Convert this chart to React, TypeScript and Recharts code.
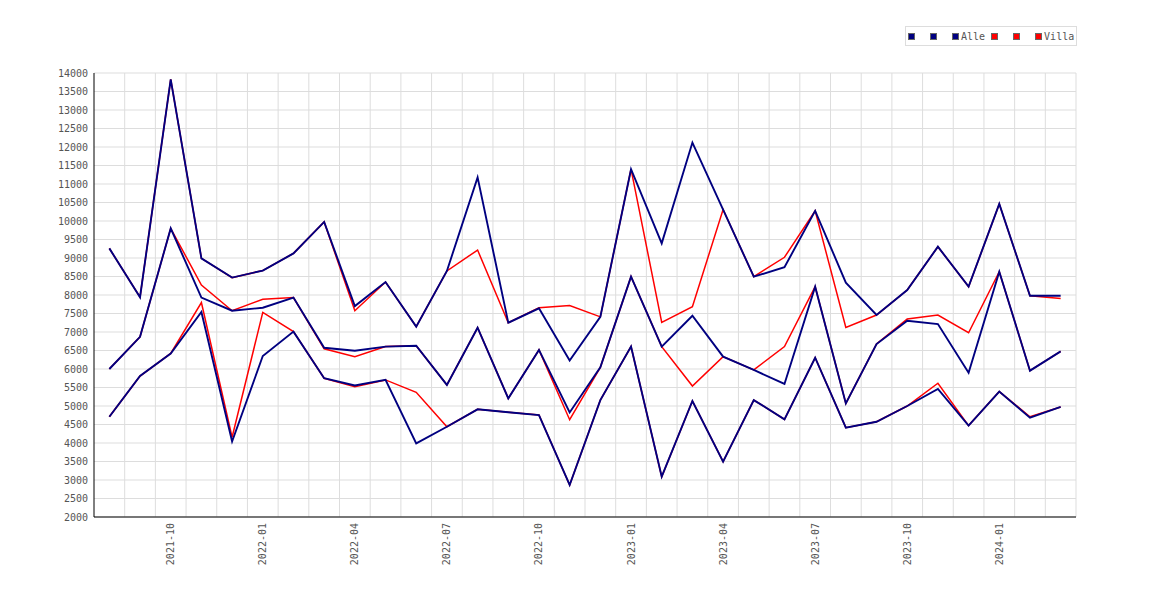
import React from 'react';
import { LineChart, Line, XAxis, YAxis, CartesianGrid } from 'recharts';

const months = [
  '2021-08', '2021-09', '2021-10', '2021-11', '2021-12', '2022-01', '2022-02', '2022-03',
  '2022-04', '2022-05', '2022-06', '2022-07', '2022-08', '2022-09', '2022-10', '2022-11',
  '2022-12', '2023-01', '2023-02', '2023-03', '2023-04', '2023-05', '2023-06', '2023-07',
  '2023-08', '2023-09', '2023-10', '2023-11', '2023-12', '2024-01', '2024-02', '2024-03',
];

const xTickLabels = [
  '2021-10', '2022-01', '2022-04', '2022-07', '2022-10',
  '2023-01', '2023-04', '2023-07', '2023-10', '2024-01',
];

const yTicks = [
  2000, 2500, 3000, 3500, 4000, 4500, 5000, 5500, 6000, 6500, 7000, 7500, 8000,
  8500, 9000, 9500, 10000, 10500, 11000, 11500, 12000, 12500, 13000, 13500, 14000,
];

// Alle (navy)
const alleMax = [
  9260, 7940, 13830, 8990, 8470, 8660, 9125, 9975, 7700, 8350, 7145, 8650, 11180, 7250, 7640, 6230,
  7410, 11400, 9395, 12120, 10310, 8495, 8750, 10275, 8335, 7460, 8135, 9305, 8225, 10460, 7980, 7980,
];
const alleAvg = [
  6000, 6870, 9800, 7930, 7575, 7655, 7930, 6575, 6495, 6605, 6630, 5570, 7115, 5205, 6515, 4825,
  6045, 8495, 6605, 7440, 6335, 5975, 5595, 8225, 5070, 6675, 7305, 7215, 5900, 8630, 5955, 6475,
];
const alleMin = [
  4710, 5810, 6420, 7540, 4040, 6350, 7010, 5750, 5555, 5705, 3990, 4440, 4910, 4830, 4755, 2865,
  5160, 6605, 3090, 5135, 3495, 5160, 4640, 6305, 4415, 4575, 5000, 5460, 4470, 5390, 4685, 4975,
];

// Villa (red)
const villaMax = [
  9260, 7940, 13830, 8990, 8470, 8660, 9125, 9975, 7575, 8350, 7145, 8650, 9215, 7250, 7655, 7715,
  7410, 11400, 7260, 7685, 10310, 8495, 9020, 10275, 7125, 7460, 8135, 9305, 8225, 10460, 7980, 7905,
];
const villaAvg = [
  6000, 6870, 9800, 8270, 7575, 7885, 7930, 6545, 6335, 6605, 6630, 5570, 7115, 5205, 6515, 4630,
  6045, 8495, 6605, 5540, 6335, 5975, 6605, 8225, 5070, 6675, 7350, 7460, 6980, 8630, 5955, 6475,
];
const villaMin = [
  4710, 5810, 6420, 7795, 4155, 7530, 7010, 5750, 5520, 5705, 5370, 4440, 4910, 4830, 4755, 2865,
  5160, 6605, 3090, 5135, 3495, 5160, 4640, 6305, 4415, 4575, 5000, 5615, 4470, 5390, 4710, 4975,
];

const NAVY = '#000080';
const RED = '#ff0000';

const legendItems = [
  { label: '', color: NAVY },
  { label: '', color: NAVY },
  { label: 'Alle', color: NAVY },
  { label: '', color: RED },
  { label: '', color: RED },
  { label: 'Villa', color: RED },
];

const data = months.map((month, i) => ({
  month,
  alleMax: alleMax[i],
  alleAvg: alleAvg[i],
  alleMin: alleMin[i],
  villaMax: villaMax[i],
  villaAvg: villaAvg[i],
  villaMin: villaMin[i],
}));

const FONT = '"DejaVu Sans Mono", monospace';
const PLOT_W = 982;
const HALF_BAND = PLOT_W / months.length / 2;

const XTick = (props: any) => {
  const { x, y, payload } = props;
  return (
    <text
      x={x}
      y={y}
      dy="0.35em"
      transform={`rotate(-90, ${x}, ${y})`}
      textAnchor="end"
      fill="#555"
      fontSize={10}
      fontFamily={FONT}
    >
      {payload.value}
    </text>
  );
};

const Legend = () => (
  <div
    style={{
      position: 'absolute',
      left: 905,
      top: 26,
      width: 168,
      height: 18,
      border: '1px solid #dddddd',
      background: '#fff',
      display: 'flex',
      alignItems: 'center',
      paddingLeft: 2,
      boxSizing: 'content-box',
      fontFamily: FONT,
      fontSize: 10,
      color: '#555',
      whiteSpace: 'nowrap',
    }}
  >
    {legendItems.map((item, i) => (
      <div key={i} style={{ display: 'flex', alignItems: 'center', marginRight: item.label ? 6 : 15 }}>
        <span
          style={{
            display: 'inline-block',
            width: 5,
            height: 5,
            background: item.color,
            border: '1px solid #666',
          }}
        />
        {item.label && <span style={{ marginLeft: 2 }}>{item.label}</span>}
      </div>
    ))}
  </div>
);

export default function App() {
  return (
    <div style={{ position: 'absolute', left: 0, top: 0, width: 1170, height: 600, background: '#fff' }}>
      <LineChart
        width={1170}
        height={600}
        data={data}
        margin={{ top: 73, right: 94, bottom: 33, left: 34 }}
      >
        <CartesianGrid
          stroke="#dddddd"
          verticalCoordinatesGenerator={({ offset }: any) =>
            months.map((_, i) => offset.left + ((i + 1) * offset.width) / months.length)
          }
        />
        <XAxis
          dataKey="month"
          ticks={xTickLabels}
          interval={0}
          height={50}
          padding={{ left: HALF_BAND, right: HALF_BAND }}
          tick={<XTick />}
          tickLine={false}
          tickSize={0}
          tickMargin={6}
          axisLine={{ stroke: '#000' }}
        />
        <YAxis
          domain={[2000, 14000]}
          ticks={yTicks}
          interval={0}
          width={60}
          tickLine={false}
          tickSize={0}
          tickMargin={6}
          axisLine={{ stroke: '#000' }}
          tick={{ fill: '#555', fontSize: 10, fontFamily: FONT }}
        />
        <Line type="linear" dataKey="villaMax" stroke={RED} strokeWidth={1.5} dot={false} activeDot={false} isAnimationActive={false} />
        <Line type="linear" dataKey="villaAvg" stroke={RED} strokeWidth={1.5} dot={false} activeDot={false} isAnimationActive={false} />
        <Line type="linear" dataKey="villaMin" stroke={RED} strokeWidth={1.5} dot={false} activeDot={false} isAnimationActive={false} />
        <Line type="linear" dataKey="alleMax" stroke={NAVY} strokeWidth={1.9} dot={false} activeDot={false} isAnimationActive={false} />
        <Line type="linear" dataKey="alleAvg" stroke={NAVY} strokeWidth={1.9} dot={false} activeDot={false} isAnimationActive={false} />
        <Line type="linear" dataKey="alleMin" stroke={NAVY} strokeWidth={1.9} dot={false} activeDot={false} isAnimationActive={false} />
      </LineChart>
      <Legend />
    </div>
  );
}
